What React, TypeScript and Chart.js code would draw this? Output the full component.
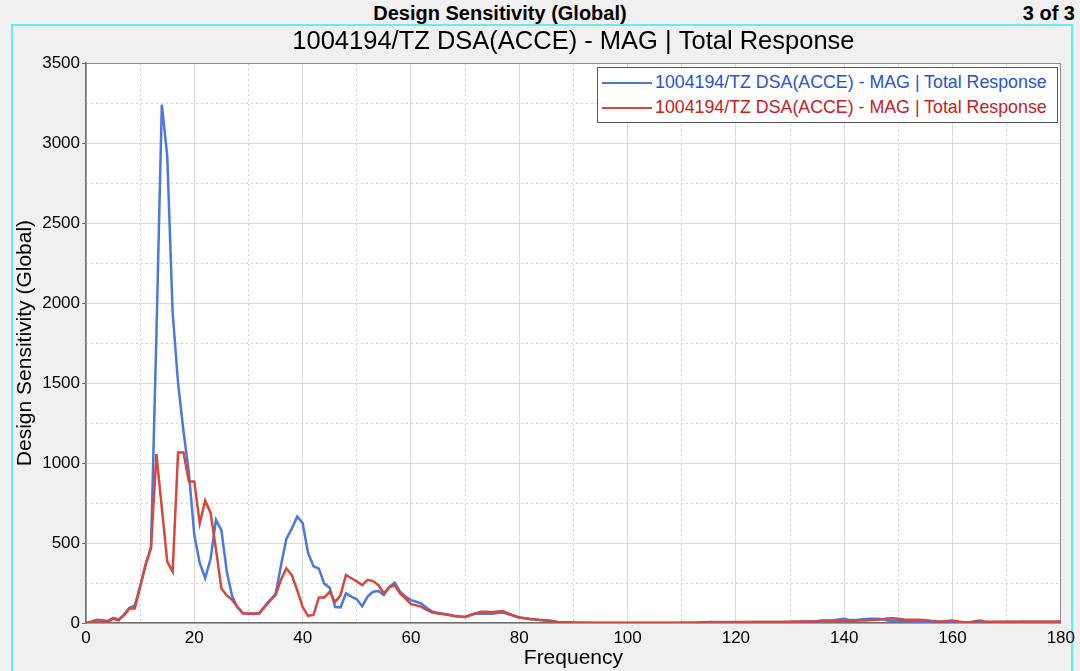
import { useEffect, useRef } from "react";
import { Chart, registerables } from "chart.js";

Chart.register(...registerables);

const FONT = "'Liberation Sans', Arial, sans-serif";
const CURVE_LABEL = "1004194/TZ DSA(ACCE) - MAG | Total Response";
const HEADER = "Design Sensitivity (Global)";
const PAGE_INFO = "3 of 3";
const X_TITLE = "Frequency";
const Y_TITLE = "Design Sensitivity (Global)";

// frequency axis, 1 Hz steps from 0 to 180
const frequency = Array.from({ length: 181 }, (_, i) => i);

// blue curve (one value per Hz)
const blueResponse = [
  0, 8, 20, 17, 12, 32, 20, 50, 95, 108,
  230, 365, 470, 1800, 3240, 2920, 1940, 1500, 1200, 940,
  550, 375, 280, 400, 645, 580, 320, 165, 95, 60,
  58, 56, 62, 105, 145, 180, 360, 525, 590, 665,
  625, 440, 355, 340, 245, 220, 100, 97, 185, 165,
  148, 105, 165, 195, 200, 175, 225, 252, 195, 165,
  143, 133, 120, 92, 70, 63, 58, 52, 45, 40,
  38, 50, 58, 58, 58, 58, 62, 65, 55, 45,
  34, 30, 25, 22, 18, 16, 12, 7, 5, 4,
  2, 1, 1, 0, 0, 0, 0, 0, 0, 0,
  0, 0, 0, 0, 0, 0, 0, 0, 0, 0,
  1, 1, 2, 3, 5, 6, 6, 6, 6, 6,
  6, 5, 5, 6, 6, 6, 6, 7, 7, 7,
  7, 8, 8, 9, 10, 11, 12, 15, 18, 22,
  26, 18, 18, 22, 25, 26, 26, 24, 15, 12,
  12, 13, 10, 8, 6, 6, 8, 8, 7, 6,
  6, 5, 5, 5, 6, 6, 6, 6, 7, 7,
  7, 7, 7, 8, 8, 8, 8, 8, 8, 8, 8,
];

// red curve
const redResponse = [
  0, 6, 17, 13, 6, 27, 17, 48, 90, 90,
  227, 363, 470, 1056, 720, 384, 321, 1066, 1066, 885,
  885, 622, 765, 690, 460, 216, 172, 143, 100, 60,
  60, 60, 60, 100, 140, 175, 270, 342, 300, 206,
  101, 45, 50, 160, 160, 195, 132, 174, 300, 280,
  260, 237, 270, 262, 237, 185, 223, 237, 185, 153,
  118, 110, 101, 80, 65, 59, 55, 50, 42, 40,
  38, 50, 62, 70, 70, 67, 72, 74, 60, 45,
  34, 30, 25, 22, 18, 16, 12, 7, 5, 4,
  3, 2, 2, 2, 2, 2, 2, 2, 2, 2,
  2, 2, 2, 2, 2, 2, 2, 2, 2, 2,
  2, 2, 2, 2, 3, 3, 3, 3, 4, 4,
  5, 6, 7, 7, 7, 7, 7, 7, 7, 7,
  8, 8, 9, 9, 10, 12, 15, 14, 13, 13,
  13, 14, 14, 15, 15, 18, 21, 24, 28, 30,
  27, 22, 21, 21, 21, 18, 14, 11, 10, 12,
  15, 10, 5, 4, 10, 15, 9, 6, 8, 8,
  8, 8, 8, 8, 8, 8, 8, 8, 8, 8, 9,
];

const BLUE = "#4a78dc";
const RED = "#d6473c";

const plotBackground = {
  id: "plotBackground",
  beforeDraw(chart: Chart) {
    const { ctx, chartArea } = chart;
    ctx.save();
    ctx.fillStyle = "#ffffff";
    ctx.fillRect(chartArea.left, chartArea.top, chartArea.width, chartArea.height);
    ctx.restore();
  },
};

function SensitivityChart() {
  const canvasRef = useRef<HTMLCanvasElement>(null);

  useEffect(() => {
    if (!canvasRef.current) return;

    const toPoints = (values: number[]) => frequency.map((f, i) => ({ x: f, y: values[i] }));

    const chart = new Chart(canvasRef.current, {
      type: "line",
      data: {
        datasets: [
          {
            label: CURVE_LABEL,
            data: toPoints(redResponse),
            borderColor: RED,
            borderWidth: 2.5,
            pointRadius: 0,
            tension: 0,
          },
          {
            label: CURVE_LABEL,
            data: toPoints(blueResponse),
            borderColor: BLUE,
            borderWidth: 2.5,
            pointRadius: 0,
            tension: 0,
          },
        ],
      },
      options: {
        responsive: false,
        animation: false,
        layout: { padding: { top: 26, left: 0, right: 19, bottom: 0 } },
        plugins: {
          legend: { display: false },
          tooltip: { enabled: false },
          title: {
            display: true,
            fullSize: false,
            text: CURVE_LABEL,
            color: "#000",
            font: { family: FONT, size: 25.5, weight: "normal" },
            padding: { top: 1, bottom: 5.5 },
          },
        },
        scales: {
          x: {
            type: "linear",
            position: "bottom",
            min: 0,
            max: 180,
            ticks: { stepSize: 20, color: "#000", font: { family: FONT, size: 17 }, padding: 5, maxRotation: 0 },
            grid: { color: "#d9d9d9", drawTicks: false },
            border: { color: "#6e6e6e", width: 1.5 },
            title: {
              display: true,
              text: X_TITLE,
              color: "#000",
              font: { family: FONT, size: 21 },
              padding: { top: 0, bottom: 0 },
            },
            afterFit: (s: any) => {
              s.height = 48;
            },
          },
          xMinor: {
            type: "linear",
            position: "top",
            min: 0,
            max: 180,
            ticks: { display: false, stepSize: 10 },
            grid: {
              drawTicks: false,
              color: (c: any) => (c.tick && c.tick.value % 20 === 0 ? "transparent" : "#cccccc"),
            },
            border: { color: "#8c8c8c", width: 1, dash: [2, 3] },
          },
          y: {
            type: "linear",
            position: "left",
            min: 0,
            max: 3500,
            ticks: {
              stepSize: 500,
              color: "#000",
              font: { family: FONT, size: 17 },
              padding: 2,
              callback: (v: any) => String(v),
            },
            grid: { color: "#d9d9d9", tickColor: "#707070", tickLength: 4 },
            border: { color: "#6e6e6e", width: 1.5 },
            title: {
              display: true,
              text: Y_TITLE,
              color: "#000",
              font: { family: FONT, size: 21 },
              padding: { top: 13, bottom: 0 },
            },
            afterFit: (s: any) => {
              s.width = 86;
            },
          },
          yMinor: {
            type: "linear",
            position: "right",
            min: 0,
            max: 3500,
            ticks: { display: false, stepSize: 250 },
            grid: {
              drawTicks: false,
              color: (c: any) => (c.tick && c.tick.value % 500 === 0 ? "transparent" : "#cccccc"),
            },
            border: { color: "#8c8c8c", width: 1, dash: [2, 3] },
          },
        },
      },
      plugins: [plotBackground],
    });

    return () => chart.destroy();
  }, []);

  return (
    <canvas
      ref={canvasRef}
      width={1080}
      height={671}
      style={{ position: "absolute", left: 0, top: 0, width: 1080, height: 671 }}
    />
  );
}

function LegendRow({ color, textColor }: { color: string; textColor: string }) {
  return (
    <div style={{ display: "flex", alignItems: "center", height: 25 }}>
      <div style={{ width: 50, height: 0, borderTop: `2.5px solid ${color}`, marginLeft: 4, marginRight: 3 }} />
      <span style={{ color: textColor, fontSize: 17.8, whiteSpace: "nowrap" }}>{CURVE_LABEL}</span>
    </div>
  );
}

export default function App() {
  return (
    <div
      style={{
        position: "fixed",
        left: 0,
        top: 0,
        width: 1080,
        height: 671,
        overflow: "hidden",
        background: "#f0f0f0",
        fontFamily: FONT,
      }}
    >
      <div
        style={{
          position: "absolute",
          left: 0,
          top: 0,
          width: 1000,
          textAlign: "center",
          fontWeight: "bold",
          fontSize: 20,
          lineHeight: "26px",
        }}
      >
        {HEADER}
      </div>
      <div
        style={{
          position: "absolute",
          right: 5,
          top: 0,
          fontWeight: "bold",
          fontSize: 20,
          lineHeight: "26px",
        }}
      >
        {PAGE_INFO}
      </div>
      <div
        style={{
          position: "absolute",
          left: 11,
          top: 24,
          width: 1062,
          height: 700,
          border: "2px solid #62eef0",
          boxSizing: "border-box",
        }}
      />
      <SensitivityChart />
      <div
        style={{
          position: "absolute",
          left: 597,
          top: 67,
          width: 461,
          height: 56,
          boxSizing: "border-box",
          background: "#fff",
          border: "1px solid #555",
          paddingTop: 2,
        }}
      >
        <LegendRow color={BLUE} textColor="#2456d0" />
        <LegendRow color={RED} textColor="#c82020" />
      </div>
    </div>
  );
}
